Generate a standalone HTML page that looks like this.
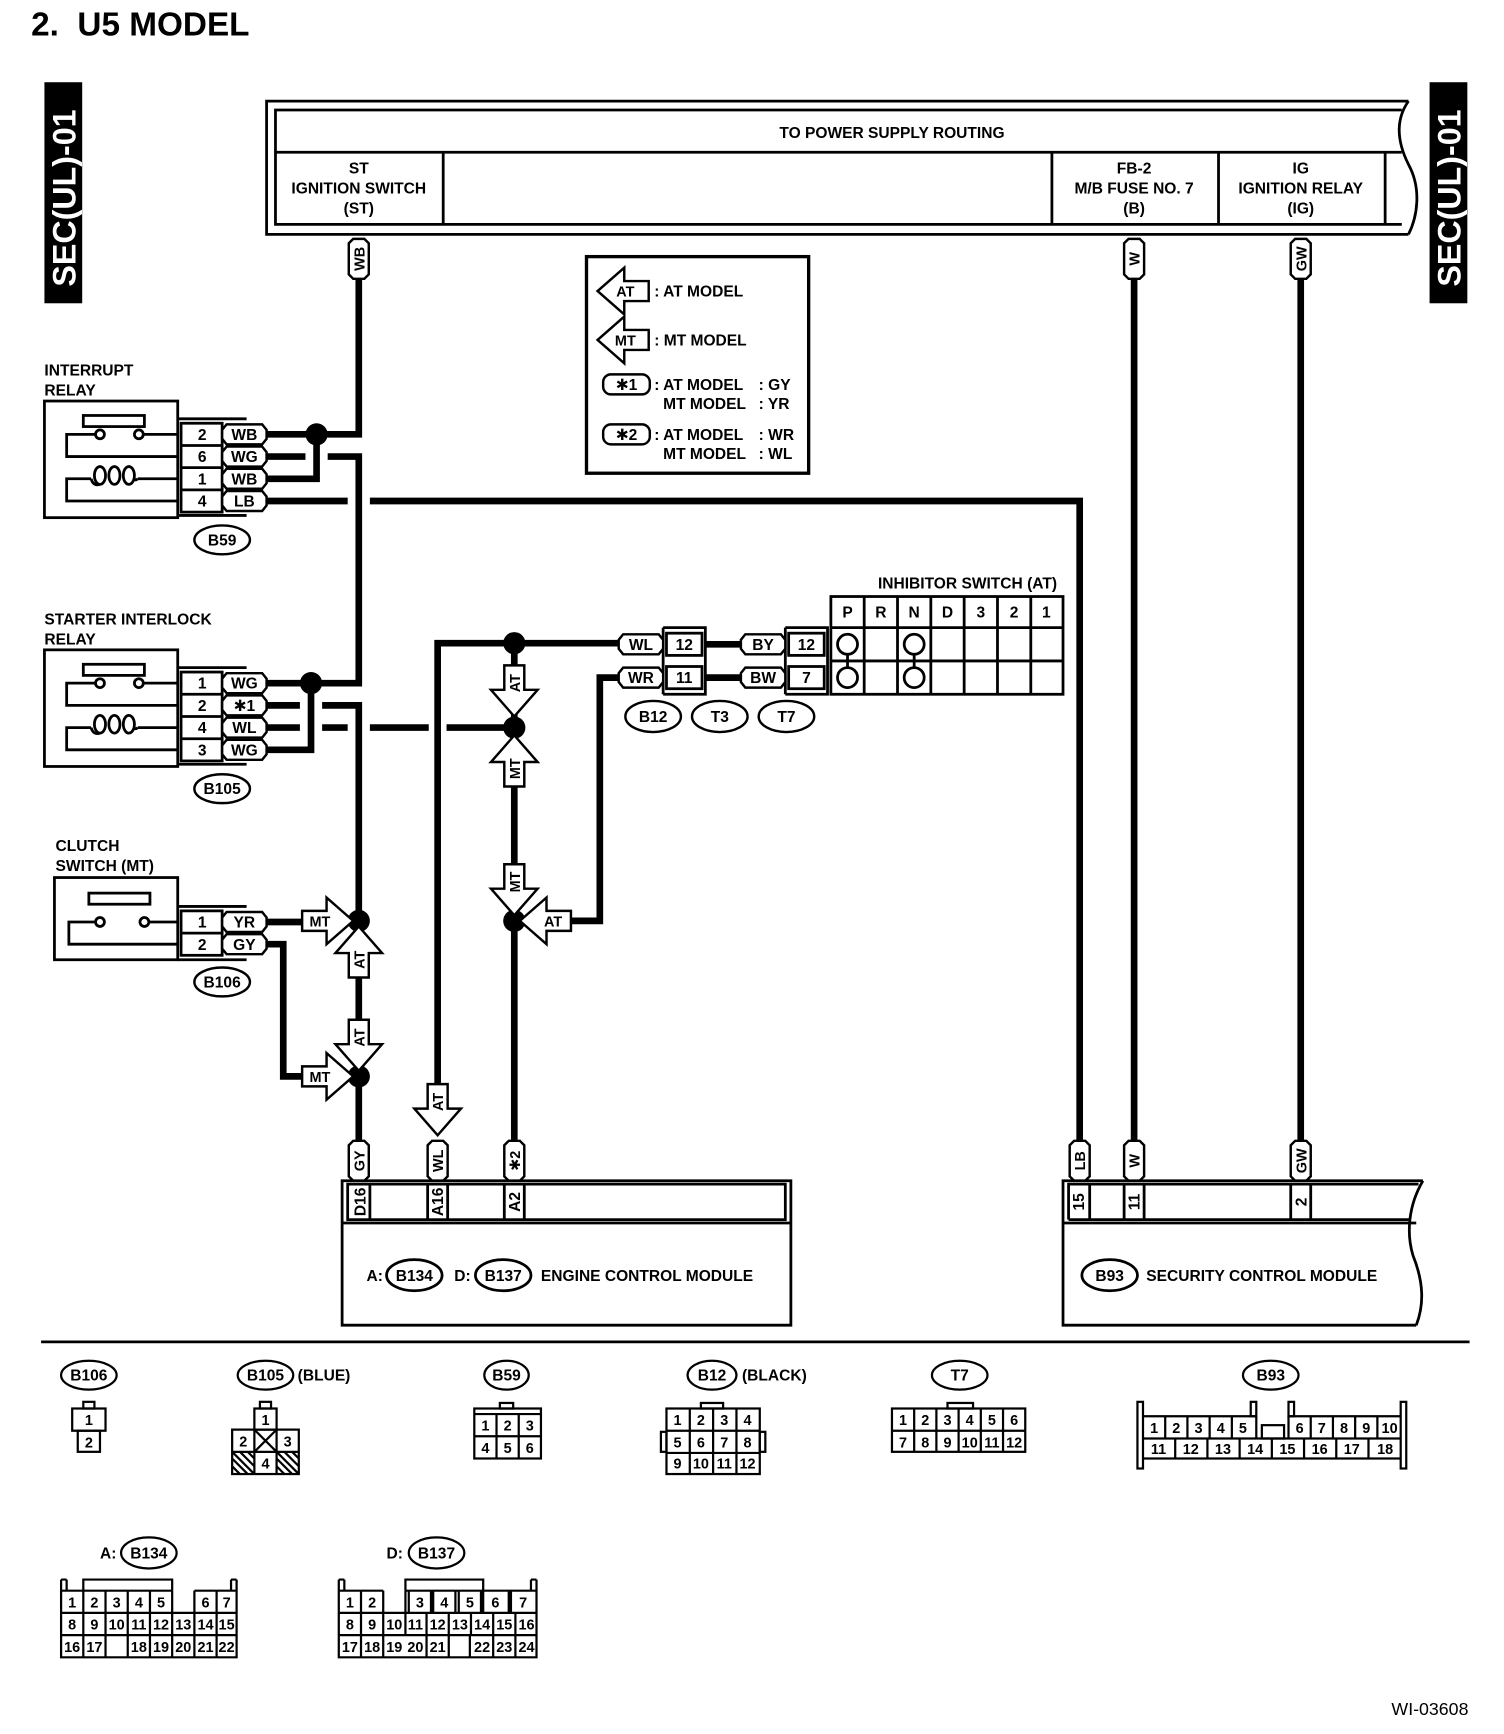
<!DOCTYPE html>
<html><head><meta charset="utf-8"><style>
html,body{margin:0;padding:0;background:#fff;}
svg{display:block;}
text{font-family:"Liberation Sans","DejaVu Sans",sans-serif;font-weight:bold;fill:#000;}
</style></head><body>
<svg width="1504" height="1734" viewBox="0 0 1354 1561" xmlns="http://www.w3.org/2000/svg">
<defs>
<path id="arr" d="M0,0 L-24,-21 L-24,-9 L-46,-9 L-46,9 L-24,9 L-24,21 Z" fill="#fff" stroke="#000" stroke-width="2.2"/>
<path id="hp" d="M-16,-9 L16,-9 L20,-4 L20,4 L16,9 L-16,9 L-20,4 L-20,-4 Z" fill="#fff" stroke="#000" stroke-width="2.2"/>
<path id="vp" d="M-9,-14 L-5,-18 L5,-18 L9,-14 L9,14 L5,18 L-5,18 L-9,14 Z" fill="#fff" stroke="#000" stroke-width="2.2"/>
</defs>

<text x="28" y="32" font-size="30">2.&#160;&#160;U5 MODEL</text>

<!-- SEC boxes -->
<rect x="40" y="74" width="34" height="199" fill="#000"/>
<text transform="translate(68,258) rotate(-90)" font-size="29" style="fill:#fff">SEC(UL)-01</text>
<rect x="1287" y="74" width="34" height="199" fill="#000"/>
<text transform="translate(1315,258) rotate(-90)" font-size="29" style="fill:#fff">SEC(UL)-01</text>

<!-- power supply box -->
<g fill="none" stroke="#000" stroke-width="2.5">
<path d="M1268,91 H240 V211 H1268"/>
<path d="M1262,99 H248 V202 H1262 M248,137 H1262 M399,137 V202 M947,137 V202 M1097,137 V202 M1247,137 V202"/>
<path d="M1268,91 C1256,108 1258,128 1268,148 C1280,170 1276,195 1268,211"/>
</g>
<g font-size="14" text-anchor="middle">
<text x="803" y="124">TO POWER SUPPLY ROUTING</text>
<text x="323" y="156">ST</text><text x="323" y="174">IGNITION SWITCH</text><text x="323" y="192">(ST)</text>
<text x="1021" y="156">FB-2</text><text x="1021" y="174">M/B FUSE NO. 7</text><text x="1021" y="192">(B)</text>
<text x="1171" y="156">IG</text><text x="1171" y="174">IGNITION RELAY</text><text x="1171" y="192">(IG)</text>
</g>

<!-- wires -->
<g fill="none" stroke="#000" stroke-width="6">
<path d="M323,250 V391 H240"/>
<path d="M240,431 H285 V391"/>
<path d="M240,411 H275 M295,411 H323 V615 H240"/>
<path d="M240,675 H280 V615"/>
<path d="M240,451 H313 M333,451 H972 V1027"/>
<path d="M240,635 H270 M290,635 H323 V1027"/>
<path d="M240,655 H270 M290,655 H313 M333,655 H386 M402,655 H463"/>
<path d="M394,1000 V579 H557"/>
<path d="M463,579 V1027"/>
<path d="M557,610 H540 V829 H510"/>
<path d="M240,830 H275"/>
<path d="M240,850 H255 V969 H275"/>
<path d="M635,580 H667 M635,610 H667"/>
<path d="M1021,250 V1027 M1171,250 V1027"/>
</g>
<g fill="#000">
<circle cx="285" cy="391" r="10"/><circle cx="280" cy="615" r="10"/>
<circle cx="323" cy="829" r="10"/><circle cx="323" cy="969" r="10"/>
<circle cx="463" cy="579" r="10"/><circle cx="463" cy="655" r="10"/><circle cx="463" cy="829" r="10"/>
</g>

<!-- pills -->
<g font-size="13">
<use href="#vp" x="323" y="233"/><text transform="translate(328,233) rotate(-90)" text-anchor="middle">WB</text>
<use href="#vp" x="1021" y="233"/><text transform="translate(1026,233) rotate(-90)" text-anchor="middle">W</text>
<use href="#vp" x="1171" y="233"/><text transform="translate(1176,233) rotate(-90)" text-anchor="middle">GW</text>
<use href="#vp" x="323" y="1045"/><text transform="translate(328,1045) rotate(-90)" text-anchor="middle">GY</text>
<use href="#vp" x="394" y="1045"/><text transform="translate(399,1045) rotate(-90)" text-anchor="middle">WL</text>
<use href="#vp" x="463" y="1045"/><text transform="translate(468,1045) rotate(-90)" text-anchor="middle">✱2</text>
<use href="#vp" x="972" y="1045"/><text transform="translate(977,1045) rotate(-90)" text-anchor="middle">LB</text>
<use href="#vp" x="1021" y="1045"/><text transform="translate(1026,1045) rotate(-90)" text-anchor="middle">W</text>
<use href="#vp" x="1171" y="1045"/><text transform="translate(1176,1045) rotate(-90)" text-anchor="middle">GW</text>
</g>

<!-- legend -->
<rect x="528" y="231" width="200" height="195" fill="none" stroke="#000" stroke-width="3"/>
<g font-size="14">
<use href="#arr" transform="translate(538,262) rotate(180)"/><text x="563" y="267" text-anchor="middle" font-size="13">AT</text>
<text x="589" y="267">: AT MODEL</text>
<use href="#arr" transform="translate(538,306) rotate(180)"/><text x="563" y="311" text-anchor="middle" font-size="13">MT</text>
<text x="589" y="311">: MT MODEL</text>
<rect x="543" y="337" width="42" height="18" rx="7" fill="none" stroke="#000" stroke-width="2.2"/><text x="564" y="351" text-anchor="middle">✱1</text>
<text x="589" y="351">: AT MODEL</text><text x="683" y="351">: GY</text>
<text x="597" y="368">MT MODEL</text><text x="683" y="368">: YR</text>
<rect x="543" y="382" width="42" height="18" rx="7" fill="none" stroke="#000" stroke-width="2.2"/><text x="564" y="396" text-anchor="middle">✱2</text>
<text x="589" y="396">: AT MODEL</text><text x="683" y="396">: WR</text>
<text x="597" y="413">MT MODEL</text><text x="683" y="413">: WL</text>
</g>

<!-- relays -->
<g font-size="14">
<text x="40" y="338">INTERRUPT</text><text x="40" y="356">RELAY</text>
<text x="40" y="562">STARTER INTERLOCK</text><text x="40" y="580">RELAY</text>
<text x="50" y="766">CLUTCH</text><text x="50" y="784">SWITCH (MT)</text>
</g>
<g id="relay1" fill="none" stroke="#000" stroke-width="2.5">
<rect x="40" y="361" width="120" height="105"/>
<rect x="75" y="374" width="55" height="10"/>
<path d="M160,391 H129 M86,391 H60 V411 H160"/>
<circle cx="90" cy="391" r="4"/><circle cx="125" cy="391" r="4"/>
<path d="M160,431 H124 M82,431 H60 V451 H160"/>
<ellipse cx="90" cy="428" rx="5" ry="8"/><ellipse cx="103" cy="428" rx="5" ry="8"/><ellipse cx="116" cy="428" rx="5" ry="8"/>
<path d="M82,431 Q84,438 90,436 M120,431 Q122,433 124,431"/>
<path d="M160,377 H222 M160,464 H222"/>
<rect x="163" y="381" width="37" height="80"/>
<path d="M163,401 H200 M163,421 H200 M163,441 H200"/>
</g>
<use href="#relay1" y="224"/>
<g font-size="14" text-anchor="middle">
<text x="182" y="396">2</text><text x="182" y="416">6</text><text x="182" y="436">1</text><text x="182" y="456">4</text>
<text x="182" y="620">1</text><text x="182" y="640">2</text><text x="182" y="660">4</text><text x="182" y="680">3</text>
<use href="#hp" x="220" y="391"/><text x="220" y="396">WB</text>
<use href="#hp" x="220" y="411"/><text x="220" y="416">WG</text>
<use href="#hp" x="220" y="431"/><text x="220" y="436">WB</text>
<use href="#hp" x="220" y="451"/><text x="220" y="456">LB</text>
<use href="#hp" x="220" y="615"/><text x="220" y="620">WG</text>
<use href="#hp" x="220" y="635"/><text x="220" y="640">✱1</text>
<use href="#hp" x="220" y="655"/><text x="220" y="660">WL</text>
<use href="#hp" x="220" y="675"/><text x="220" y="680">WG</text>
</g>
<!-- clutch -->
<g fill="none" stroke="#000" stroke-width="2.5">
<rect x="49" y="790" width="111" height="74"/>
<rect x="80" y="804" width="55" height="10"/>
<path d="M86,830 H62 V850 H160 M160,830 H134"/>
<circle cx="90" cy="830" r="4"/><circle cx="130" cy="830" r="4"/>
<path d="M160,816 H222 M160,864 H222"/>
<rect x="163" y="820" width="37" height="40"/><path d="M163,840 H200"/>
</g>
<g font-size="14" text-anchor="middle">
<text x="182" y="835">1</text><text x="182" y="855">2</text>
<use href="#hp" x="220" y="830"/><text x="220" y="835">YR</text>
<use href="#hp" x="220" y="850"/><text x="220" y="855">GY</text>
</g>
<g fill="none" stroke="#000" stroke-width="2.2">
<ellipse cx="200" cy="486" rx="25" ry="13"/><ellipse cx="200" cy="710" rx="25" ry="13"/><ellipse cx="200" cy="884" rx="25" ry="13"/>
<ellipse cx="588" cy="645" rx="25" ry="14"/><ellipse cx="648" cy="645" rx="25" ry="14"/><ellipse cx="708" cy="645" rx="25" ry="14"/>
</g>
<g font-size="14" text-anchor="middle">
<text x="200" y="491">B59</text><text x="200" y="715">B105</text><text x="200" y="889">B106</text>
<text x="588" y="650">B12</text><text x="648" y="650">T3</text><text x="708" y="650">T7</text>
</g>

<!-- arrows -->
<g font-size="13" text-anchor="middle">
<use href="#arr" transform="translate(318,829)"/><text x="288" y="834">MT</text>
<use href="#arr" transform="translate(318,969)"/><text x="288" y="974">MT</text>
<use href="#arr" transform="translate(323,834) rotate(-90)"/><text transform="translate(328,864) rotate(-90)">AT</text>
<use href="#arr" transform="translate(323,964) rotate(90)"/><text transform="translate(328,934) rotate(-90)">AT</text>
<use href="#arr" transform="translate(394,1022) rotate(90)"/><text transform="translate(399,992) rotate(-90)">AT</text>
<use href="#arr" transform="translate(463,645) rotate(90)"/><text transform="translate(468,615) rotate(-90)">AT</text>
<use href="#arr" transform="translate(463,662) rotate(-90)"/><text transform="translate(468,692) rotate(-90)">MT</text>
<use href="#arr" transform="translate(463,824) rotate(90)"/><text transform="translate(468,794) rotate(-90)">MT</text>
<use href="#arr" transform="translate(468,829) rotate(180)"/><text x="498" y="834">AT</text>
</g>

<!-- B12 / T7 / inhibitor -->
<g fill="none" stroke="#000" stroke-width="2.5">
<path d="M597,565 H635 V625 H597 M597,565 V625"/>
<rect x="600" y="570" width="32" height="20"/><rect x="600" y="600" width="32" height="20"/>
<path d="M707,565 H745 V625 H707 M707,565 V625"/>
<rect x="710" y="570" width="32" height="20"/><rect x="710" y="600" width="32" height="20"/>
<rect x="748" y="537" width="209" height="88"/>
<path d="M748,565 H957 M748,595 H957 M778,537 V625 M808,537 V625 M838,537 V625 M868,537 V625 M898,537 V625 M928,537 V625"/>
<circle cx="763" cy="580" r="9"/><circle cx="763" cy="610" r="9"/><path d="M763,589 V601"/>
<circle cx="823" cy="580" r="9"/><circle cx="823" cy="610" r="9"/><path d="M823,589 V601"/>
</g>
<g font-size="14" text-anchor="middle">
<text x="871" y="530">INHIBITOR SWITCH (AT)</text>
<text x="763" y="556">P</text><text x="793" y="556">R</text><text x="823" y="556">N</text><text x="853" y="556">D</text><text x="883" y="556">3</text><text x="913" y="556">2</text><text x="942" y="556">1</text>
<text x="616" y="585">12</text><text x="616" y="615">11</text><text x="726" y="585">12</text><text x="726" y="615">7</text>
<use href="#hp" x="577" y="580"/><text x="577" y="585">WL</text>
<use href="#hp" x="577" y="610"/><text x="577" y="615">WR</text>
<use href="#hp" x="687" y="580"/><text x="687" y="585">BY</text>
<use href="#hp" x="687" y="610"/><text x="687" y="615">BW</text>
</g>

<!-- ECM -->
<g fill="none" stroke="#000" stroke-width="2.5">
<path d="M308,1063 H712 V1193 H308 Z M308,1101 H712"/>
<rect x="313" y="1066" width="394" height="32"/>
<path d="M333,1066 V1098 M385,1066 V1098 M403,1066 V1098 M454,1066 V1098 M472,1066 V1098"/>
<ellipse cx="373" cy="1148" rx="25" ry="14"/><ellipse cx="453" cy="1148" rx="25" ry="14"/>
</g>
<g font-size="14">
<text transform="translate(329,1082) rotate(-90)" text-anchor="middle">D16</text>
<text transform="translate(399,1082) rotate(-90)" text-anchor="middle">A16</text>
<text transform="translate(468,1082) rotate(-90)" text-anchor="middle">A2</text>
<text x="330" y="1153">A:</text><text x="373" y="1153" text-anchor="middle">B134</text>
<text x="409" y="1153">D:</text><text x="453" y="1153" text-anchor="middle">B137</text>
<text x="487" y="1153">ENGINE CONTROL MODULE</text>
</g>
<!-- SCM -->
<g fill="none" stroke="#000" stroke-width="2.5">
<path d="M1281,1063 H957 V1193 H1275 M957,1101 H1275"/>
<path d="M962,1098 V1066 H1277 M962,1098 H1270"/>
<path d="M981,1066 V1098 M1012,1066 V1098 M1030,1066 V1098 M1162,1066 V1098 M1180,1066 V1098"/>
<path d="M1281,1063 C1268,1085 1266,1110 1272,1130 C1282,1155 1282,1175 1275,1193"/>
<ellipse cx="999" cy="1148" rx="25" ry="14"/>
</g>
<g font-size="14">
<text transform="translate(976,1082) rotate(-90)" text-anchor="middle">15</text>
<text transform="translate(1026,1082) rotate(-90)" text-anchor="middle">11</text>
<text transform="translate(1176,1082) rotate(-90)" text-anchor="middle">2</text>
<text x="999" y="1153" text-anchor="middle">B93</text>
<text x="1032" y="1153">SECURITY CONTROL MODULE</text>
</g>

<path d="M37,1208 H1323" stroke="#000" stroke-width="2.5"/>

<!-- bottom connectors -->
<g fill="none" stroke="#000" stroke-width="2">
<ellipse cx="80" cy="1238" rx="25" ry="13"/><ellipse cx="239" cy="1238" rx="25" ry="13"/><ellipse cx="456" cy="1238" rx="20" ry="13"/>
<ellipse cx="641" cy="1238" rx="22" ry="13"/><ellipse cx="864" cy="1238" rx="25" ry="13"/><ellipse cx="1144" cy="1238" rx="25" ry="13"/>
<ellipse cx="134" cy="1398" rx="25" ry="14"/><ellipse cx="393" cy="1398" rx="25" ry="14"/>
<rect x="75" y="1262" width="10" height="6"/><rect x="65" y="1268" width="30" height="20"/><rect x="70" y="1288" width="20" height="19"/>
<rect x="234" y="1262" width="10" height="6"/><rect x="229" y="1268" width="20" height="19"/>
<rect x="209" y="1287" width="60" height="40"/><path d="M209,1307 H269 M229,1287 V1327 M249,1287 V1327 M229,1287 L249,1307 M249,1287 L229,1307"/>
<path d="M209,1313 L223,1327 M209,1320 L216,1327 M209,1307 L229,1327 M216,1307 L229,1320 M223,1307 L229,1313 M249,1313 L263,1327 M249,1320 L256,1327 M249,1307 L269,1327 M256,1307 L269,1320 M263,1307 L269,1313"/>
<rect x="450" y="1263" width="12" height="5"/><rect x="427" y="1268" width="60" height="45"/>
<path d="M427,1273 H487 M427,1293 H487 M447,1273 V1313 M467,1273 V1313"/>
<rect x="631" y="1263" width="20" height="5"/><rect x="600" y="1268" width="84" height="59"/>
<path d="M600,1288 H684 M600,1308 H684 M621,1268 V1327 M642,1268 V1327 M663,1268 V1327"/>
<rect x="595" y="1289" width="5" height="18"/><rect x="684" y="1289" width="5" height="18"/>
<rect x="853" y="1263" width="23" height="5"/><rect x="803" y="1268" width="120" height="39"/>
<path d="M803,1288 H923 M823,1268 V1307 M843,1268 V1307 M863,1268 V1307 M883,1268 V1307 M903,1268 V1307"/>
<rect x="1024" y="1262" width="5" height="60"/><rect x="1261" y="1262" width="5" height="60"/>
<rect x="1126" y="1262" width="5" height="13"/><rect x="1160" y="1262" width="5" height="13"/>
<path d="M1029,1275 H1131 M1160,1275 H1261 M1029,1295 H1261 M1029,1313 H1261 M1131,1275 V1295 M1160,1275 V1295"/>
<rect x="1136" y="1283" width="20" height="12"/>
<path d="M1049,1275 V1295 M1069,1275 V1295 M1089,1275 V1295 M1109,1275 V1295 M1180,1275 V1295 M1200,1275 V1295 M1220,1275 V1295 M1240,1275 V1295"/>
<path d="M1058,1295 V1313 M1087,1295 V1313 M1116,1295 V1313 M1145,1295 V1313 M1174,1295 V1313 M1203,1295 V1313 M1232,1295 V1313"/>
<path d="M55,1422 V1492 H213 V1422 M60,1422 V1432 M208,1422 V1432 M55,1422 H60 M208,1422 H213 M75,1432 V1422 H155 V1432"/>
<path d="M55,1432 H155 M175,1432 H213 M55,1452 H213 M55,1472 H213"/>
<path d="M75,1432 V1492 M95,1432 V1472 M115,1432 V1492 M135,1432 V1492 M155,1432 V1492 M175,1432 V1492 M195,1432 V1492 M95,1472 V1492"/>
<path d="M305,1422 V1492 H483 V1422 M310,1422 V1432 M478,1422 V1432 M305,1422 H310 M478,1422 H483 M365,1432 V1422 H435 V1432"/>
<path d="M305,1432 H345 M365,1432 H483 M305,1452 H483 M305,1472 H483"/>
<path d="M325,1432 V1492 M345,1432 V1492 M365,1432 V1472 M368,1432 V1452 M388,1432 V1452 M390,1432 V1452 M410,1432 V1452 M413,1432 V1452 M433,1432 V1452 M435,1432 V1452 M458,1432 V1452 M460,1432 V1452"/>
<path d="M384,1452 V1492 M404,1452 V1492 M424,1452 V1472 M444,1452 V1492 M464,1452 V1492 M423,1472 V1492"/>
</g>
<g font-size="13" text-anchor="middle" style="font-weight:normal">
<text x="80" y="1283">1</text><text x="80" y="1303">2</text>
<text x="239" y="1283">1</text><text x="219" y="1302">2</text><text x="259" y="1302">3</text><text x="239" y="1322">4</text>
<text x="437" y="1288">1</text><text x="457" y="1288">2</text><text x="477" y="1288">3</text><text x="437" y="1308">4</text><text x="457" y="1308">5</text><text x="477" y="1308">6</text>
<text x="610" y="1283">1</text><text x="631" y="1283">2</text><text x="652" y="1283">3</text><text x="673" y="1283">4</text>
<text x="610" y="1303">5</text><text x="631" y="1303">6</text><text x="652" y="1303">7</text><text x="673" y="1303">8</text>
<text x="610" y="1322">9</text><text x="631" y="1322">10</text><text x="652" y="1322">11</text><text x="673" y="1322">12</text>
<text x="813" y="1283">1</text><text x="833" y="1283">2</text><text x="853" y="1283">3</text><text x="873" y="1283">4</text><text x="893" y="1283">5</text><text x="913" y="1283">6</text>
<text x="813" y="1303">7</text><text x="833" y="1303">8</text><text x="853" y="1303">9</text><text x="873" y="1303">10</text><text x="893" y="1303">11</text><text x="913" y="1303">12</text>
<text x="1039" y="1290">1</text><text x="1059" y="1290">2</text><text x="1079" y="1290">3</text><text x="1099" y="1290">4</text><text x="1119" y="1290">5</text>
<text x="1170" y="1290">6</text><text x="1190" y="1290">7</text><text x="1210" y="1290">8</text><text x="1230" y="1290">9</text><text x="1251" y="1290">10</text>
<text x="1043" y="1309">11</text><text x="1072" y="1309">12</text><text x="1101" y="1309">13</text><text x="1130" y="1309">14</text><text x="1159" y="1309">15</text><text x="1188" y="1309">16</text><text x="1217" y="1309">17</text><text x="1247" y="1309">18</text>
<text x="65" y="1447">1</text><text x="85" y="1447">2</text><text x="105" y="1447">3</text><text x="125" y="1447">4</text><text x="145" y="1447">5</text><text x="185" y="1447">6</text><text x="204" y="1447">7</text>
<text x="65" y="1467">8</text><text x="85" y="1467">9</text><text x="105" y="1467">10</text><text x="125" y="1467">11</text><text x="145" y="1467">12</text><text x="165" y="1467">13</text><text x="185" y="1467">14</text><text x="204" y="1467">15</text>
<text x="65" y="1487">16</text><text x="85" y="1487">17</text><text x="125" y="1487">18</text><text x="145" y="1487">19</text><text x="165" y="1487">20</text><text x="185" y="1487">21</text><text x="204" y="1487">22</text>
<text x="315" y="1447">1</text><text x="335" y="1447">2</text><text x="378" y="1447">3</text><text x="400" y="1447">4</text><text x="423" y="1447">5</text><text x="446" y="1447">6</text><text x="471" y="1447">7</text>
<text x="315" y="1467">8</text><text x="335" y="1467">9</text><text x="355" y="1467">10</text><text x="374" y="1467">11</text><text x="394" y="1467">12</text><text x="414" y="1467">13</text><text x="434" y="1467">14</text><text x="454" y="1467">15</text><text x="474" y="1467">16</text>
<text x="315" y="1487">17</text><text x="335" y="1487">18</text><text x="355" y="1487">19</text><text x="374" y="1487">20</text><text x="394" y="1487">21</text><text x="434" y="1487">22</text><text x="454" y="1487">23</text><text x="474" y="1487">24</text>
</g>
<g font-size="14">
<text x="80" y="1243" text-anchor="middle">B106</text>
<text x="239" y="1243" text-anchor="middle">B105</text><text x="268" y="1243">(BLUE)</text>
<text x="456" y="1243" text-anchor="middle">B59</text>
<text x="641" y="1243" text-anchor="middle">B12</text><text x="668" y="1243">(BLACK)</text>
<text x="864" y="1243" text-anchor="middle">T7</text>
<text x="1144" y="1243" text-anchor="middle">B93</text>
<text x="90" y="1403">A:</text><text x="134" y="1403" text-anchor="middle">B134</text>
<text x="348" y="1403">D:</text><text x="393" y="1403" text-anchor="middle">B137</text>
</g>
<text x="1322" y="1544" font-size="16" text-anchor="end" style="font-weight:normal">WI-03608</text>
</svg>
</body></html>
